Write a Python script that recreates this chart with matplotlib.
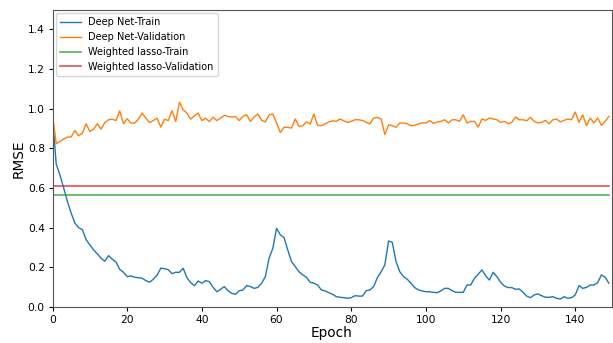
import matplotlib
matplotlib.use("Agg")
import matplotlib.pyplot as plt
import numpy as np

epochs = list(range(150))

train_dn = [
    0.96, 0.72, 0.665, 0.60, 0.532, 0.473, 0.423, 0.40, 0.39, 0.34,
    0.313, 0.288, 0.268, 0.246, 0.231, 0.259, 0.241, 0.227, 0.19, 0.175,
    0.153, 0.157, 0.15, 0.148, 0.145, 0.133, 0.125, 0.14, 0.16, 0.196,
    0.193, 0.188, 0.168, 0.175, 0.175, 0.195, 0.148, 0.123, 0.107, 0.131,
    0.12, 0.133, 0.128, 0.099, 0.077, 0.089, 0.103, 0.082, 0.069, 0.064,
    0.082, 0.086, 0.108, 0.103, 0.094, 0.099, 0.12, 0.153, 0.246, 0.296,
    0.397, 0.364, 0.35, 0.288, 0.229, 0.204, 0.178, 0.162, 0.15, 0.125,
    0.12, 0.111, 0.086, 0.081, 0.072, 0.064, 0.052, 0.049, 0.047, 0.044,
    0.047, 0.057, 0.055, 0.055, 0.082, 0.086, 0.103, 0.148, 0.178, 0.212,
    0.333, 0.326, 0.229, 0.178, 0.153, 0.14, 0.12, 0.098, 0.086, 0.081,
    0.077, 0.077, 0.074, 0.072, 0.081, 0.094, 0.094, 0.082, 0.074, 0.074,
    0.074, 0.111, 0.111, 0.145, 0.165, 0.187, 0.157, 0.136, 0.175, 0.153,
    0.125, 0.106, 0.098, 0.098, 0.089, 0.091, 0.074, 0.055, 0.047, 0.061,
    0.066, 0.057, 0.049, 0.049, 0.052, 0.044, 0.040, 0.052, 0.044, 0.047,
    0.061, 0.108, 0.094, 0.099, 0.111, 0.111, 0.123, 0.162, 0.15, 0.12,
]

val_dn = [
    0.97, 0.823, 0.835, 0.847, 0.857, 0.857, 0.89, 0.863, 0.877, 0.924,
    0.885, 0.897, 0.924, 0.897, 0.93, 0.944, 0.947, 0.94, 0.989, 0.924,
    0.949, 0.927, 0.927, 0.947, 0.978, 0.952, 0.93, 0.94, 0.952, 0.907,
    0.947, 0.94, 0.99, 0.935, 1.032, 0.994, 0.978, 0.947, 0.964, 0.978,
    0.94, 0.952, 0.935, 0.957, 0.94, 0.952, 0.966, 0.961, 0.957, 0.961,
    0.94, 0.962, 0.969, 0.936, 0.958, 0.973, 0.941, 0.933, 0.969, 0.973,
    0.928, 0.88, 0.906, 0.906, 0.902, 0.948, 0.911, 0.914, 0.933, 0.923,
    0.973, 0.916, 0.914, 0.923, 0.933, 0.939, 0.936, 0.948, 0.939, 0.931,
    0.936, 0.944, 0.944, 0.941, 0.931, 0.923, 0.953, 0.956, 0.948, 0.869,
    0.919, 0.914, 0.906, 0.928, 0.928, 0.924, 0.914, 0.916, 0.923, 0.928,
    0.928, 0.940, 0.926, 0.932, 0.936, 0.944, 0.928, 0.944, 0.944, 0.936,
    0.969, 0.928, 0.936, 0.936, 0.907, 0.948, 0.941, 0.953, 0.948, 0.944,
    0.931, 0.936, 0.924, 0.931, 0.958, 0.944, 0.944, 0.939, 0.956, 0.936,
    0.928, 0.931, 0.941, 0.924, 0.944, 0.948, 0.933, 0.941, 0.948, 0.944,
    0.983, 0.931, 0.969, 0.914, 0.953, 0.928, 0.953, 0.916, 0.936, 0.961,
]

lasso_train = 0.566
lasso_val = 0.608

labels = ["Deep Net-Train", "Deep Net-Validation",
          "Weighted lasso-Train", "Weighted lasso-Validation"]

fig = plt.figure(figsize=(6.13, 3.43), dpi=100)
ax = fig.add_axes([52.5 / 613, (343 - 307) / 343, (611.5 - 52.5) / 613, (307 - 9.5) / 343])

ax.plot(epochs, train_dn, color="#1f77b4", lw=1.0, label=labels[0])
ax.plot(epochs, val_dn, color="#ff7f0e", lw=1.0, label=labels[1])
ax.plot(epochs, [lasso_train] * len(epochs), color="#2ca02c", lw=1.2, alpha=0.8, label=labels[2])
ax.plot(epochs, [lasso_val] * len(epochs), color="#d62728", lw=1.2, alpha=0.8, label=labels[3])

ax.set_xlim(0, 149.7)
ax.set_ylim(0, 1.5)
ax.set_xticks(np.arange(0, 150, 20))
ax.set_yticks(np.arange(0, 1.41, 0.2))
ax.yaxis.set_major_formatter(matplotlib.ticker.FormatStrFormatter("%.1f"))
ax.tick_params(labelsize=7.7, length=3.0, pad=2.5)
ax.set_xlabel("Epoch", fontsize=9.8, labelpad=1)
ax.set_ylabel("RMSE", fontsize=9.8, labelpad=1.5)
for s in ax.spines.values():
    s.set_color("#555555")

ax.legend(loc="upper left", fontsize=7.0, handlelength=2.1, borderaxespad=0.4)

fig.savefig("out.png", dpi=100)
